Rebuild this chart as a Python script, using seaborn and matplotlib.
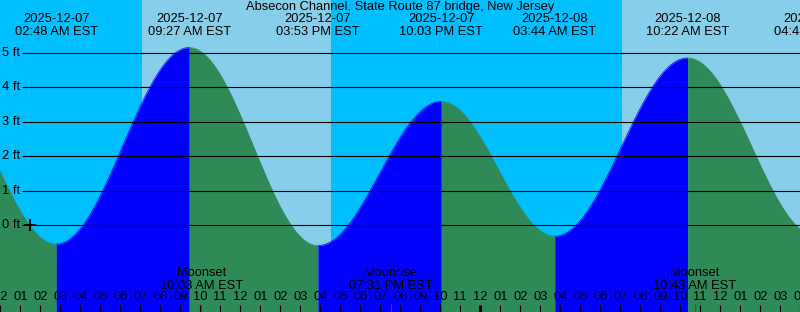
import numpy as np
import pandas as pd
import matplotlib
matplotlib.use("Agg")
import matplotlib.pyplot as plt
import seaborn as sns

# ---------------- data ----------------
title = "Absecon Channel, State Route 87 bridge, New Jersey"
# tide extremes: hours since 2025-12-07 00:00 EST, heights in ft
ext_hours = [-3.25, 2.80, 9.45, 15.883, 22.05, 27.733, 34.367, 40.80]
ext_heights = [4.20, -0.54, 5.15, -0.58, 3.59, -0.31, 4.85, -0.30]
label_dates = ["2025-12-07", "2025-12-07", "2025-12-07", "2025-12-07",
               "2025-12-08", "2025-12-08", "2025-12-08"]
label_times = ["02:48 AM EST", "09:27 AM EST", "03:53 PM EST", "10:03 PM EST",
               "03:44 AM EST", "10:22 AM EST", "04:48 PM EST"]
# daylight intervals (sunrise, sunset) in hours
day_start = [7.07, 31.07]
day_end = [16.53, 40.60]
# moon events
moon_hours = [10.05, 19.517, 34.717]
moon_names = ["Moonset", "Moonrise", "Moonset"]
moon_times = ["10:03 AM EST", "07:31 PM EST", "10:43 AM EST"]
hour_ticks = list(range(0, 41))
hour_labels = ["%02d" % (((h - 1) % 12) + 1) for h in hour_ticks]
ft_levels = [0, 1, 2, 3, 4, 5]
ft_labels = ["%d ft" % v for v in ft_levels]
now_hour, now_level = 1.5, 0.0

# ---------------- styling ----------------
NIGHT = "#00BFFF"
DAY = "#87CEEB"
RISE = "#0000FF"
FALL = "#2E8B57"

sns.set_style("white")
plt.rcParams["font.family"] = ["Liberation Sans", "DejaVu Sans"]
plt.rcParams["text.color"] = "black"
FS = 9.3

W, H = 800, 312
H0 = -0.0125
X0, X1 = H0, H0 + 40.0
PX_PER_FT = 34.55
ZERO_PX = 225.5


def xh(px):
    return px / 20.0 + H0


def yf(py):
    return (ZERO_PX - py) / PX_PER_FT


Y0, Y1 = yf(H), yf(0)

# build curve segments between extremes (cosine shape between each pair)
rows = []
for i in range(len(ext_hours) - 1):
    t0, t1 = ext_hours[i], ext_hours[i + 1]
    v0, v1 = ext_heights[i], ext_heights[i + 1]
    tt = np.linspace(t0, t1, 120)
    vv = v0 + (v1 - v0) * (1 - np.cos(np.pi * (tt - t0) / (t1 - t0))) / 2
    phase = "rising" if v1 > v0 else "falling"
    for a, b in zip(tt, vv):
        rows.append((a, b, i, phase))
df = pd.DataFrame(rows, columns=["t", "h", "seg", "phase"])

fig = plt.figure(figsize=(W / 100, H / 100), dpi=100, facecolor=NIGHT)
ax = fig.add_axes([0, 0, 1, 1])
ax.axvspan(X0 - 5, X1 + 5, color=NIGHT, lw=0, zorder=0)
for s, e in zip(day_start, day_end):
    ax.axvspan(s, e, color=DAY, lw=0, zorder=0.5)

for seg, g in df.groupby("seg"):
    col = RISE if g["phase"].iloc[0] == "rising" else FALL
    ax.fill_between(g["t"], g["h"], Y0 - 1, color=col, lw=0, zorder=1)
sns.lineplot(data=df, x="t", y="h", hue="phase", units="seg", estimator=None,
             palette={"rising": RISE, "falling": FALL}, legend=False,
             linewidth=0.5, ax=ax, zorder=2)

# grid lines and labels
ax.hlines(ft_levels, xh(22), X1, color="black", lw=0.8, zorder=3)
for v, lab in zip(ft_levels, ft_labels):
    ax.text(xh(20), v, lab, ha="right", va="center", fontsize=FS, zorder=4)
ax.plot([now_hour], [now_level], marker="+", ms=8, mew=1.3, color="black", zorder=5)

# extreme labels on top
ax.text((X0 + X1) / 2, yf(7.3), title, ha="center", va="center", fontsize=FS, zorder=4)
for t, d, s in zip(ext_hours[1:], label_dates, label_times):
    ax.text(t, yf(19.3), d, ha="center", va="center", fontsize=FS, zorder=4)
    ax.text(t, yf(31.7), s, ha="center", va="center", fontsize=FS, zorder=4)

# hour ticks
for h, lab in zip(hour_ticks, hour_labels):
    lw = 2.0 if h % 24 == 0 and h > 0 else 0.8
    ax.vlines(h, Y0, yf(305), color="black", lw=lw, zorder=3)
    ax.text(h, yf(297.3), lab, ha="center", va="center", fontsize=FS, zorder=4)

# moon events
for t, n, s in zip(moon_hours, moon_names, moon_times):
    ax.vlines(t, Y0, yf(304), color="red", lw=0.8, zorder=3)
    ax.text(t, yf(273.3), n, ha="center", va="center", fontsize=FS, zorder=4)
    ax.text(t, yf(285.7), s, ha="center", va="center", fontsize=FS, zorder=4)

ax.set_xlim(X0, X1)
ax.set_ylim(Y0, Y1)
ax.set_axis_off()
fig.savefig("out.png", dpi=100, facecolor=NIGHT)
